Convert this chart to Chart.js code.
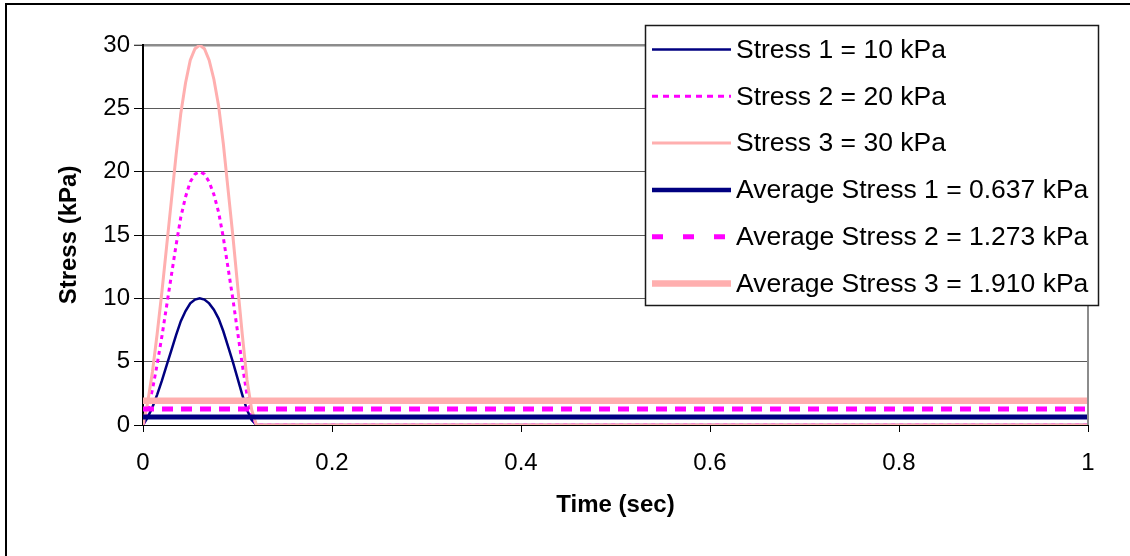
<!DOCTYPE html>
<html>
<head>
<meta charset="utf-8">
<script src="https://cdn.jsdelivr.net/npm/chart.js@4/dist/chart.umd.min.js"></script>
<style>
  html, body { margin: 0; padding: 0; background: #ffffff; }
  canvas { display: block; }
</style>
</head>
<body>
<canvas id="stressChart" width="1130" height="556"></canvas>
<script>
// Time samples (sec) of the load pulse, followed by the rest period to 1 s
const times = [0, 0.005, 0.01, 0.015, 0.02, 0.025, 0.03, 0.035, 0.04, 0.045, 0.05, 0.055, 0.06,
               0.065, 0.07, 0.075, 0.08, 0.085, 0.09, 0.095, 0.1, 0.105, 0.11, 0.115, 0.12, 1];

// Applied stress (kPa) at each time sample
const stress1 = [0, 0.6, 1.4, 2.4, 3.5, 4.7, 5.9, 7.1, 8.2, 9.0, 9.6, 9.9, 10,
                 9.9, 9.6, 9.1, 8.4, 7.4, 6.2, 5.0, 3.7, 2.4, 1.2, 0.4, 0, 0];
const stress2 = [0, 1.2, 2.8, 4.8, 7.0, 9.4, 11.8, 14.2, 16.4, 18.0, 19.2, 19.8, 20,
                 19.8, 19.2, 18.2, 16.8, 14.8, 12.4, 10.0, 7.4, 4.8, 2.4, 0.8, 0, 0];
const stress3 = [0, 1.8, 4.2, 7.2, 10.5, 14.1, 17.7, 21.3, 24.6, 27.0, 28.8, 29.7, 30,
                 29.7, 28.8, 27.3, 25.2, 22.2, 18.6, 15.0, 11.1, 7.2, 3.6, 1.2, 0, 0];

// Time-averaged stress (kPa) over the 1 s cycle
const avgTimes = [0, 1];
const avg1 = [0.637, 0.637];
const avg2 = [1.273, 1.273];
const avg3 = [1.910, 1.910];

const seriesLabels = [
  'Stress 1 = 10 kPa',
  'Stress 2 = 20 kPa',
  'Stress 3 = 30 kPa',
  'Average Stress 1 = 0.637 kPa',
  'Average Stress 2 = 1.273 kPa',
  'Average Stress 3 = 1.910 kPa'
];

const xTicks = [0, 0.2, 0.4, 0.6, 0.8, 1];
const yTicks = [0, 5, 10, 15, 20, 25, 30];

const FONT = '"Liberation Sans", Arial, Helvetica, sans-serif';
const NAVY = '#000080';
const MAGENTA = '#FF00FF';
const PINK = '#FFAFAF';

function pairs(xs, ys) {
  return xs.map((x, i) => ({ x: x, y: ys[i] }));
}

// Legend styling for each series (sample line in the legend box)
const legendSamples = [
  { color: NAVY, width: 2.5, dash: [] },
  { color: MAGENTA, width: 3, dash: [6, 5] },
  { color: PINK, width: 3, dash: [] },
  { color: NAVY, width: 4.5, dash: [] },
  { color: MAGENTA, width: 5, dash: [11, 20] },
  { color: PINK, width: 6.5, dash: [] }
];

// Frame, plot border and boxed legend
const decorations = {
  id: 'decorations',
  afterDraw(chart) {
    const ctx = chart.ctx;
    const area = chart.chartArea;
    ctx.save();

    // right edge of the plot area
    ctx.strokeStyle = '#8c8c8c';
    ctx.lineWidth = 2;
    ctx.beginPath();
    ctx.moveTo(area.right, area.top);
    ctx.lineTo(area.right, area.bottom);
    ctx.stroke();

    // outer chart frame (left and top)
    ctx.strokeStyle = '#000000';
    ctx.lineWidth = 2;
    ctx.beginPath();
    ctx.moveTo(6, 556);
    ctx.lineTo(6, 4);
    ctx.lineTo(1130, 4);
    ctx.stroke();

    // legend box
    const bx = 645.5, by = 25.5, bw = 453, bh = 280;
    ctx.fillStyle = '#ffffff';
    ctx.fillRect(bx, by, bw, bh);
    ctx.strokeStyle = '#1a1a1a';
    ctx.lineWidth = 1.5;
    ctx.strokeRect(bx, by, bw, bh);

    ctx.font = '26.5px ' + FONT;
    ctx.textBaseline = 'middle';
    ctx.textAlign = 'left';
    const rowY0 = 49.5, rowStep = 46.8;
    seriesLabels.forEach((label, i) => {
      const y = rowY0 + i * rowStep;
      const s = legendSamples[i];
      ctx.strokeStyle = s.color;
      ctx.lineWidth = s.width;
      ctx.setLineDash(s.dash);
      ctx.lineCap = 'butt';
      ctx.beginPath();
      ctx.moveTo(652, y);
      ctx.lineTo(731, y);
      ctx.stroke();
      ctx.setLineDash([]);
      ctx.fillStyle = '#000000';
      ctx.fillText(label, 736, y + 1);
    });
    ctx.restore();
  }
};

new Chart(document.getElementById('stressChart'), {
  type: 'line',
  data: {
    datasets: [
      { label: seriesLabels[0], data: pairs(times, stress1), borderColor: NAVY, borderWidth: 2.5, order: 6 },
      { label: seriesLabels[1], data: pairs(times, stress2), borderColor: MAGENTA, borderWidth: 3, borderDash: [4, 4], order: 5 },
      { label: seriesLabels[2], data: pairs(times, stress3), borderColor: PINK, borderWidth: 3, order: 4 },
      { label: seriesLabels[3], data: pairs(avgTimes, avg1), borderColor: NAVY, borderWidth: 5, order: 3 },
      { label: seriesLabels[4], data: pairs(avgTimes, avg2), borderColor: MAGENTA, borderWidth: 5, borderDash: [11, 8], order: 2 },
      { label: seriesLabels[5], data: pairs(avgTimes, avg3), borderColor: PINK, borderWidth: 6.5, order: 1 }
    ]
  },
  options: {
    responsive: false,
    animation: false,
    elements: {
      point: { radius: 0, hoverRadius: 0 },
      line: { tension: 0, fill: false, borderCapStyle: 'butt' }
    },
    layout: { padding: { left: 0, top: 45, right: 42, bottom: 0 } },
    plugins: {
      legend: { display: false },
      tooltip: { enabled: false }
    },
    scales: {
      x: {
        type: 'linear',
        min: 0,
        max: 1,
        afterBuildTicks(scale) { scale.ticks = xTicks.map(v => ({ value: v })); },
        afterFit(scale) { scale.height = 131; },
        ticks: {
          color: '#000000',
          font: { family: FONT, size: 24 },
          padding: 17,
          maxRotation: 0,
          callback: v => String(v)
        },
        grid: {
          drawOnChartArea: false,
          drawTicks: true,
          tickLength: 7,
          tickColor: '#000000'
        },
        border: { color: '#000000', width: 1 },
        title: {
          display: true,
          text: 'Time (sec)',
          color: '#000000',
          font: { family: FONT, size: 24, weight: 'bold' },
          padding: { top: 0, bottom: 36 }
        }
      },
      y: {
        type: 'linear',
        min: 0,
        max: 30,
        afterBuildTicks(scale) { scale.ticks = yTicks.map(v => ({ value: v })); },
        afterFit(scale) { scale.width = 143; },
        ticks: {
          color: '#000000',
          font: { family: FONT, size: 24 },
          padding: 4,
          callback: v => String(v)
        },
        grid: {
          color: ctx => (ctx.tick && ctx.tick.value === 30) ? '#8c8c8c' : '#5a5a5a',
          lineWidth: ctx => (ctx.tick && ctx.tick.value === 30) ? 2.5 : 1,
          drawTicks: true,
          tickLength: 9,
          tickColor: '#000000',
          tickWidth: 1
        },
        border: { color: '#000000', width: 2 },
        title: {
          display: true,
          text: 'Stress (kPa)',
          color: '#000000',
          font: { family: FONT, size: 24, weight: 'bold' },
          padding: { top: 55, bottom: 0 }
        }
      }
    }
  },
  plugins: [decorations]
});
</script>
</body>
</html>
